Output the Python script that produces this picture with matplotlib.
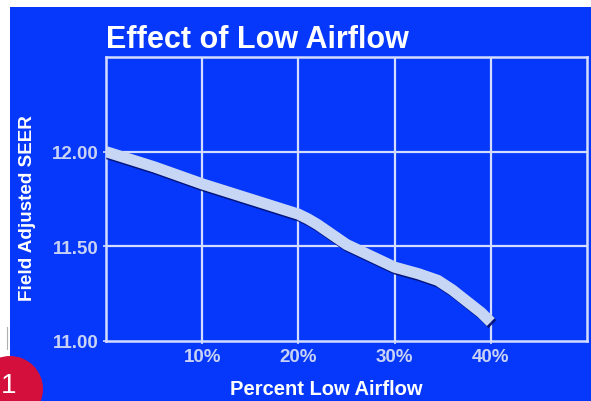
import matplotlib
matplotlib.use("Agg")
import matplotlib.pyplot as plt
import matplotlib.patheffects as pe
from matplotlib.patches import Rectangle, Circle

# field-adjusted SEER vs. percent of low airflow
airflow_pct = [0, 2.5, 5, 7.5, 10, 12.5, 15, 17.5, 20, 21, 22, 23, 25, 27.5, 30,
               32.5, 34.5, 36, 37, 38, 39, 40]
seer = [12.00, 11.96, 11.92, 11.875, 11.83, 11.79, 11.75, 11.71, 11.67, 11.645, 11.615, 11.58,
        11.51, 11.45, 11.39, 11.355, 11.32, 11.27, 11.23, 11.19, 11.15, 11.10]

x_ticks = [10, 20, 30, 40]
x_labels = ["10%", "20%", "30%", "40%"]
y_ticks = [11.0, 11.5, 12.0]
y_labels = ["11.00", "11.50", "12.00"]

BLUE = "#0538fa"
GRID = "#d4dcff"
TICK = "#c8d2f6"
FONT = ["Liberation Sans", "DejaVu Sans"]

W, H = 591, 402
fig = plt.figure(figsize=(W / 100, H / 100), dpi=100, facecolor="white")

# blue panel behind everything
fig.patches.append(Rectangle((10 / W, 0), 1, 1 - 8 / H, transform=fig.transFigure,
                             facecolor=BLUE, edgecolor="none", zorder=-2))
fig.lines.append(plt.Line2D([7 / W, 7 / W], [1 - 350 / H, 1 - 328 / H],
                            transform=fig.transFigure, color="#b0b0b0", lw=0.8, zorder=-1))

ax = fig.add_axes([106 / W, 1 - 342 / H, (587 - 106) / W, (342 - 58) / H], zorder=1)
ax.set_facecolor(BLUE)
ax.set_xlim(0, 50)
ax.set_ylim(11.0, 12.5)

for x in x_ticks:
    ax.axvline(x, color=GRID, lw=1.6, zorder=1)
for y in y_ticks[1:]:
    ax.axhline(y, color=GRID, lw=1.6, zorder=1)
for s in ax.spines.values():
    s.set_color(GRID)
    s.set_linewidth(1.8)

ax.plot(airflow_pct, seer, color="#c8d6f5", lw=8, solid_capstyle="butt",
        solid_joinstyle="round", zorder=3,
        path_effects=[pe.SimpleLineShadow(offset=(1.2, -1.5), shadow_color="#001070", alpha=0.9),
                      pe.Normal()])

ax.set_xticks(x_ticks)
ax.set_xticklabels(x_labels)
ax.set_yticks(y_ticks)
ax.set_yticklabels(y_labels)
ax.tick_params(axis="both", length=2, width=1.2, color=GRID, labelcolor=TICK,
               labelsize=13.5, pad=3)
for lab in ax.get_xticklabels() + ax.get_yticklabels():
    lab.set_family(FONT)
    lab.set_fontweight("bold")

fig.text(106 / W, 1 - 48 / H, "Effect of Low Airflow", color="white", fontsize=22,
         fontweight="bold", family=FONT, ha="left", va="baseline")
fig.text(28 / W, 1 - 208 / H, "Field Adjusted SEER", color="white", fontsize=13.6,
         fontweight="bold", family=FONT, rotation=90, ha="center", va="center")
fig.text(326 / W, 1 - 395 / H, "Percent Low Airflow", color="white", fontsize=14.5,
         fontweight="bold", family=FONT, ha="center", va="baseline")

# numbered badge in the corner
fig.patches.append(Circle((0.10, 0.12), 0.33, transform=fig.dpi_scale_trans,
                          facecolor="#d40f3c", edgecolor="none", zorder=5))
fig.text(9 / W, 1 - 386 / H, "1", color="white", fontsize=20, family=FONT,
         ha="center", va="center", zorder=6)

fig.savefig("out.png", dpi=100, facecolor="white")
